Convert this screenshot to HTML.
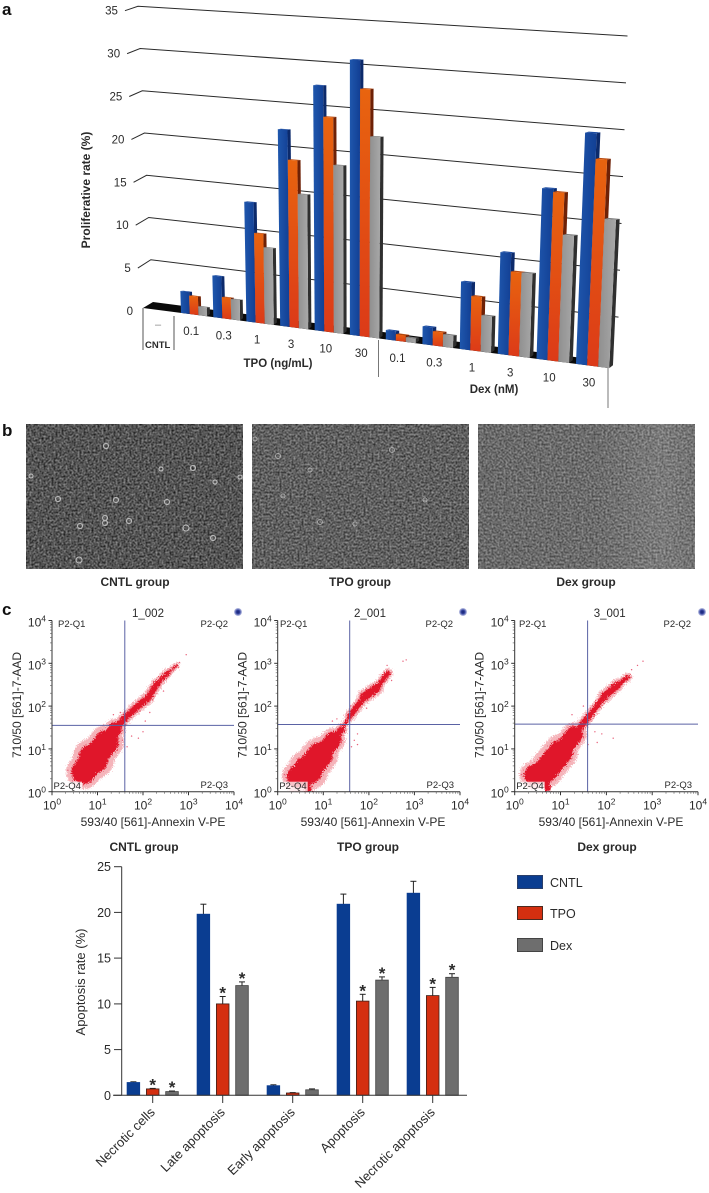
<!DOCTYPE html>
<html lang="en">
<head>
<meta charset="utf-8">
<title>Proliferation and apoptosis figure</title>
<style>
html,body{margin:0;padding:0;background:#fff;}
svg{display:block;font-family:"Liberation Sans",sans-serif;}
text{fill:#2a2a2a;}
</style>
</head>
<body>
<svg id="fig" xmlns="http://www.w3.org/2000/svg" width="709" height="1193" viewBox="0 0 709 1193">
<defs>
<linearGradient id="gBlue" x1="0" y1="0" x2="1" y2="0"><stop offset="0" stop-color="#1f57ad"/><stop offset="1" stop-color="#123f94"/></linearGradient>
<linearGradient id="gOrange" x1="0" y1="0" x2="0" y2="1"><stop offset="0" stop-color="#e8640f"/><stop offset="1" stop-color="#dc3a18"/></linearGradient>
<linearGradient id="gGray" x1="0" y1="0" x2="1" y2="0"><stop offset="0" stop-color="#8f8f8f"/><stop offset="1" stop-color="#a8a8a8"/></linearGradient>
<radialGradient id="gDot"><stop offset="0" stop-color="#14206e"/><stop offset=".45" stop-color="#2f3f9c"/><stop offset="1" stop-color="#c9cdea"/></radialGradient>
<linearGradient id="gDexLight" x1="0" y1="0" x2="1" y2="0"><stop offset="0" stop-color="#fff" stop-opacity="0"/><stop offset=".55" stop-color="#fff" stop-opacity=".02"/><stop offset=".85" stop-color="#fff" stop-opacity=".12"/><stop offset="1" stop-color="#fff" stop-opacity=".06"/></linearGradient>
<filter id="cellsA" x="0" y="0" width="1" height="1" color-interpolation-filters="sRGB">
<feTurbulence type="fractalNoise" baseFrequency="0.5" numOctaves="2" seed="4"/>
<feColorMatrix type="matrix" values="0.7 0 0 0 -0.02  0.7 0 0 0 -0.02  0.7 0 0 0 -0.02  0 0 0 0 1"/>
</filter>
<filter id="cellsB" x="0" y="0" width="1" height="1" color-interpolation-filters="sRGB">
<feTurbulence type="fractalNoise" baseFrequency="0.5" numOctaves="2" seed="11"/>
<feColorMatrix type="matrix" values="0.65 0 0 0 0.05  0.65 0 0 0 0.05  0.65 0 0 0 0.05  0 0 0 0 1"/>
</filter>
<filter id="cellsC" x="0" y="0" width="1" height="1" color-interpolation-filters="sRGB">
<feTurbulence type="fractalNoise" baseFrequency="0.5" numOctaves="2" seed="23"/>
<feColorMatrix type="matrix" values="0.55 0 0 0 0.14  0.55 0 0 0 0.14  0.55 0 0 0 0.14  0 0 0 0 1"/>
</filter>
<filter id="grain" x="-10%" y="-10%" width="120%" height="120%">
<feTurbulence type="fractalNoise" baseFrequency="0.9" numOctaves="1" seed="7" result="n"/>
<feDisplacementMap in="SourceGraphic" in2="n" scale="8" xChannelSelector="R" yChannelSelector="G"/>
</filter>
</defs>

<text x="2" y="15" font-size="17" font-weight="bold" style="fill:#111">a</text>
<text x="2" y="436" font-size="17" font-weight="bold" style="fill:#111">b</text>
<text x="2" y="615" font-size="17" font-weight="bold" style="fill:#111">c</text>

<g id="chart3d"></g>
<text transform="translate(90,190) rotate(-90)" text-anchor="middle" font-size="12" font-weight="bold">Proliferative rate (%)</text>
<text x="145" y="348" font-size="9.5" font-weight="bold">CNTL</text>
<text x="158" y="328" text-anchor="middle" font-size="11" style="fill:#888">–</text>
<text x="278" y="367" text-anchor="middle" font-size="11.5" font-weight="bold">TPO (ng/mL)</text>
<text x="494" y="393" text-anchor="middle" font-size="11.5" font-weight="bold">Dex (nM)</text>
<line x1="143" y1="308" x2="143" y2="350" stroke="#555" stroke-width="1"/>
<line x1="174" y1="316" x2="174" y2="350" stroke="#555" stroke-width="1"/>
<line x1="378.5" y1="340" x2="378.5" y2="377" stroke="#777" stroke-width="1"/>
<line x1="608" y1="368" x2="608" y2="408" stroke="#777" stroke-width="1"/>

<g>
<rect x="26" y="424" width="217" height="145" filter="url(#cellsA)"/>
<g fill="none" stroke="#c8c8c8" stroke-width="1.2" opacity=".85">
<circle cx="116" cy="500" r="2.5"/><circle cx="105" cy="518" r="2.5"/><circle cx="105" cy="523" r="2.5"/><circle cx="129" cy="521" r="2.5"/><circle cx="80" cy="526" r="2.5"/><circle cx="58" cy="499" r="2.5"/><circle cx="186" cy="528" r="3"/><circle cx="213" cy="538" r="2.5"/><circle cx="193" cy="468" r="2.5"/><circle cx="215" cy="482" r="2"/><circle cx="106" cy="446" r="2.5"/><circle cx="161" cy="469" r="2"/><circle cx="79" cy="560" r="3"/><circle cx="31" cy="476" r="2"/><circle cx="240" cy="477" r="2"/><circle cx="167" cy="502" r="2.5"/>
</g></g>
<g>
<rect x="252" y="424" width="217" height="145" filter="url(#cellsB)"/>
<g fill="none" stroke="#bdbdbd" stroke-width="1" opacity=".8">
<circle cx="255" cy="439" r="2"/><circle cx="278" cy="456" r="2.5"/><circle cx="283" cy="496" r="2"/><circle cx="320" cy="522" r="2.5"/><circle cx="355" cy="524" r="2"/><circle cx="392" cy="450" r="2.5"/><circle cx="425" cy="500" r="2"/><circle cx="310" cy="470" r="2"/>
</g></g>
<g>
<rect x="478" y="424" width="217" height="145" filter="url(#cellsC)"/>
<rect x="478" y="424" width="217" height="145" fill="url(#gDexLight)"/>
</g>
<text x="135" y="586" text-anchor="middle" font-size="12" font-weight="bold">CNTL group</text>
<text x="360" y="586" text-anchor="middle" font-size="12" font-weight="bold">TPO group</text>
<text x="586" y="586" text-anchor="middle" font-size="12" font-weight="bold">Dex group</text>

<g id="flow"></g>
<text x="144" y="851" text-anchor="middle" font-size="12" font-weight="bold">CNTL group</text>
<text x="368" y="851" text-anchor="middle" font-size="12" font-weight="bold">TPO group</text>
<text x="607" y="851" text-anchor="middle" font-size="12" font-weight="bold">Dex group</text>

<g id="apop"></g>
<text transform="translate(85,982) rotate(-90)" text-anchor="middle" font-size="13">Apoptosis rate (%)</text>

<g>
<rect x="517.5" y="875.5" width="25" height="13" fill="#0a3d91" stroke="#2a3f6a" stroke-width="1"/>
<text x="550" y="887" font-size="12.5">CNTL</text>
<rect x="517.5" y="906.5" width="25" height="13" fill="#d42f10" stroke="#4c2a20" stroke-width="1"/>
<text x="550" y="918" font-size="12.5">TPO</text>
<rect x="517.5" y="938.5" width="25" height="13" fill="#6e6e6e" stroke="#444" stroke-width="1"/>
<text x="550" y="950" font-size="12.5">Dex</text>
</g>

<script>
/* ===== Panel a: 3D proliferation bars ===== */
const proliferationTicks = [0,5,10,15,20,25,30,35];
const doseLabels = ["0.1","0.3","1","3","10","30","0.1","0.3","1","3","10","30"];
const proliferationCntl = [2.5,4.7,13.4,21.8,26.9,29.9,1.0,1.9,7.1,10.6,17.6,23.6];
const proliferationTpo  = [2.1,2.4,10.0,18.5,23.5,26.8,0.7,1.5,5.7,8.7,17.3,21.0];
const proliferationDex  = [1.0,2.3,8.5,14.8,18.3,21.7,0.5,1.3,3.8,8.7,13.0,15.0];

/* ===== Panel c: flow cytometry (log10 decades) ===== */
const flowDecades = [0,1,2,3,4];
const flowNames = ["cntl","tpo","dex"];
const flowRunTitles = ["1_002","2_001","3_001"];
const flowThresholdX = [1.6,1.58,1.59];
const flowThresholdY = [1.55,1.57,1.58];
/* ridge of the event cloud: log x, log y, half-width in decades */
const flowCloudCntl = [[0.69,0.46,0.2],[0.91,0.77,0.33],[1.2,1.16,0.2],[1.39,1.47,0.09],[1.6,1.72,0.06],[1.86,1.97,0.08],[2.12,2.2,0.07],[2.3,2.51,0.07],[2.55,2.78,0.035],[2.74,2.95,0.015]];
const flowCloudTpo  = [[0.45,0.35,0.18],[0.67,0.51,0.32],[0.93,0.86,0.24],[1.22,1.21,0.12],[1.4,1.45,0.03],[1.58,1.76,0.03],[1.91,2.23,0.1],[2.17,2.42,0.08],[2.42,2.77,0.03]];
const flowCloudDex  = [[0.42,0.39,0.16],[0.68,0.51,0.27],[1.01,0.94,0.26],[1.3,1.33,0.11],[1.63,1.77,0.03],[1.96,2.23,0.09],[2.25,2.5,0.07],[2.47,2.68,0.02]];
const flowTailTpo = [[0.62,0.3],[0.67,0.04]];
const flowTailDex = [[0.65,0.35],[0.72,0.08]];
/* sparse outlying events */
const flowOutliersCntl = [[2.95,3.2],[2.8,3.02],[1.55,1.2],[1.75,1.3],[1.9,1.25],[2.0,1.4],[2.05,1.65],[1.65,1.05],[1.5,1.85],[1.35,1.8],[0.35,0.5],[0.45,0.25],[0.3,0.15],[2.15,1.85],[2.45,2.35]];
const flowOutliersTpo  = [[2.75,3.05],[2.82,3.08],[2.4,2.95],[1.68,1.2],[1.62,1.05],[1.75,1.1],[1.3,1.7],[1.6,2.0],[1.2,1.65],[0.15,0.4],[0.2,0.25],[1.95,1.95],[2.5,2.6],[1.75,1.35]];
const flowOutliersDex  = [[2.8,3.05],[2.68,2.95],[2.55,2.85],[1.75,1.4],[1.9,1.35],[2.15,1.25],[1.8,1.15],[1.65,1.95],[1.5,2.0],[1.25,1.8],[0.15,0.4],[0.25,0.5],[2.1,2.45],[1.6,1.1]];

/* ===== Panel c: apoptosis bars ===== */
const apoptosisCategories = ["Necrotic cells","Late apoptosis","Early apoptosis","Apoptosis","Necrotic apoptosis"];
const apoptosisTicks = [0,5,10,15,20,25];
const apoptosisCntl = [1.4,19.8,1.05,20.9,22.1];
const apoptosisTpo  = [0.7,10.0,0.25,10.3,10.9];
const apoptosisDex  = [0.4,12.0,0.6,12.6,12.9];
const apoptosisCntlErr = [0.08,1.1,0.1,1.1,1.3];
const apoptosisTpoErr  = [0.06,0.8,0.05,0.75,0.9];
const apoptosisDexErr  = [0.07,0.4,0.1,0.35,0.4];
const apoptosisTpoStars = [1,1,0,1,1];
const apoptosisDexStars = [1,1,0,1,1];

const NS = "http://www.w3.org/2000/svg";
function mk(tag, attrs, parent){
  const e = document.createElementNS(NS, tag);
  for (const k in attrs) e.setAttribute(k, attrs[k]);
  parent.appendChild(e);
  return e;
}
function pts(list){ return list.map(p => p[0].toFixed(2)+","+p[1].toFixed(2)).join(" "); }

/* --- 3D chart axis functions --- */
const c3 = document.getElementById("chart3d");
function wallLeftX(v){ return 153 - 0.43*v; }
function wallLeftY(v){ return 302 - 8.45*v; }
function wallRightX(v){ return 617 + 0.3*v; }
function wallRightY(v){ return 364 - 9.37*v; }
function stubX(v){ return wallLeftX(v) - 13; }
function stubY(v){ return wallLeftY(v) + 9 - 0.13*v; }
function groupX(i){ return 181 + 32*i + 0.355*i*i; }
function groupW(i){ return 29 + 8*i/11; }
function floorY(x){ return 308 + 0.129*(x-143); }
function unitPx(x){ return 8.75 + (x-181)*1.05/395; }
function proj(x, v){
  const h = v*unitPx(x);
  return [x + (x-350)*h*0.000175, floorY(x) - h];
}

proliferationTicks.forEach(v => {
  if (v > 0){
    const grid = mk("polyline", {points: pts([[stubX(v),stubY(v)],[wallLeftX(v),wallLeftY(v)],[wallRightX(v),wallRightY(v)]]), fill:"none", stroke:"#2a2a2a", "stroke-width":"1"}, c3);
    
    
  }
  const lab = mk("text", {x:(stubX(v)-7).toFixed(1), y:(stubY(v)+4).toFixed(1), "text-anchor":"end", "font-size":"11.5"}, c3);
  
  
  lab.textContent = String(v);
});
const floor = mk("polygon", {points: pts([[143,308],[153,302],[613,362],[608,368]]), fill:"#0a0a0a"}, c3);



const series3d = [
  {name:"cntl", vals:proliferationCntl, fill:"url(#gBlue)", side:"#0c2a6b", top:"#1a4aa0"},
  {name:"tpo",  vals:proliferationTpo,  fill:"url(#gOrange)", side:"#6e2106", top:"#b84a10"},
  {name:"dex",  vals:proliferationDex,  fill:"url(#gGray)", side:"#2f2f2f", top:"#7d7d7d"}
];
doseLabels.forEach((lab, i) => {
  const x0 = groupX(i), w = groupW(i), step = w*0.3, dx = w*0.1, dy = w*0.08;
  series3d.forEach((s, k) => {
    const v = s.vals[i], xa = x0 + k*step, xb = xa + step;
    const bl = proj(xa,0), br = proj(xb,0), tl = proj(xa,v), tr = proj(xb,v);
    const side = mk("polygon", {points: pts([br,tr,[tr[0]+dx,tr[1]-dy+2],[br[0]+dx,br[1]-dy]]), fill:s.side}, c3);
    
    
    const top = mk("polygon", {points: pts([tl,tr,[tr[0]+dx,tr[1]-dy+2],[tl[0]+dx,tl[1]-dy+2]]), fill:s.top}, c3);
    
    
    const front = mk("polygon", {points: pts([bl,tl,tr,br]), fill:s.fill}, c3);
    
    
  });
  const xt = x0 + w*0.35;
  const t = mk("text", {x:xt.toFixed(1), y:(floorY(xt)+21).toFixed(1), "text-anchor":"middle", "font-size":"11.5"}, c3);
  
  
  t.textContent = lab;
});

/* --- Flow cytometry panels --- */
const flow = document.getElementById("flow");
const flowFrames = [{l:52,r:234,titleX:148,xTitle:153,dot:238,q1:58,q2:222},{l:277.7,r:460,titleX:370,xTitle:373,dot:463,q1:280,q2:447},{l:514.7,r:698,titleX:609.7,xTitle:611,dot:702,q1:519,q2:685}];
const flowClouds = [flowCloudCntl, flowCloudTpo, flowCloudDex];
const flowTails = [[], flowTailTpo, flowTailDex];
const flowOutliers = [flowOutliersCntl, flowOutliersTpo, flowOutliersDex];
const FT = 620.5, FB = 791.7;

flowFrames.forEach((f, p) => {
  const g = mk("g", {}, flow);
  
  
  const sx = d => f.l + d*(f.r-f.l)/4;
  const sy = d => FB - d*(FB-FT)/4;
  const pxPerDecade = (f.r-f.l)/4;

  const clip = mk("clipPath", {id:"flowClip"+p}, g);
  mk("rect", {x:f.l, y:FT, width:f.r-f.l, height:FB-FT}, clip);

  const cloudWrap = mk("g", {"clip-path":"url(#flowClip"+p+")"}, g);
  const ridge = flowClouds[p];
  /* faint sparse halo, then dense core */
  [{grow:1.3, extra:1.5, op:0.32}, {grow:1, extra:0, op:1}].forEach(layer => {
    const cloud = mk("g", {fill:"#e0182c", stroke:"#e0182c", "stroke-linecap":"round", filter:"url(#grain)", opacity:layer.op}, cloudWrap);
    
    
    ridge.forEach((r, i) => {
      const c = mk("circle", {cx:sx(r[0]).toFixed(1), cy:sy(r[1]).toFixed(1), r:(r[2]*pxPerDecade*layer.grow+layer.extra).toFixed(1), stroke:"none"}, cloud);
      
      
      if (i+1 < ridge.length){
        const n = ridge[i+1];
        const s = mk("line", {x1:sx(r[0]).toFixed(1), y1:sy(r[1]).toFixed(1), x2:sx(n[0]).toFixed(1), y2:sy(n[1]).toFixed(1), "stroke-width":((r[2]+n[2])*pxPerDecade*layer.grow+2*layer.extra).toFixed(1)}, cloud);
        
        
      }
    });
    const tail = flowTails[p];
    if (tail.length === 2){
      const tl = mk("line", {x1:sx(tail[0][0]).toFixed(1), y1:sy(tail[0][1]).toFixed(1), x2:sx(tail[1][0]).toFixed(1), y2:sy(tail[1][1]).toFixed(1), "stroke-width":"7"}, cloud);
      
      
    }
  });
  flowOutliers[p].forEach(o => {
    const d = mk("circle", {cx:sx(o[0]).toFixed(1), cy:sy(o[1]).toFixed(1), r:"0.7", fill:"#e8607a"}, cloudWrap);
    
    
  });

  const hq = mk("line", {x1:f.l, y1:sy(flowThresholdY[p]).toFixed(1), x2:f.r, y2:sy(flowThresholdY[p]).toFixed(1), stroke:"#5a62a4", "stroke-width":"1"}, g);
  
  
  const vq = mk("line", {x1:sx(flowThresholdX[p]).toFixed(1), y1:FT, x2:sx(flowThresholdX[p]).toFixed(1), y2:FB, stroke:"#5a62a4", "stroke-width":"1"}, g);
  
  

  const ax = mk("polyline", {points: pts([[f.l,FT],[f.l,FB],[f.r,FB]]), fill:"none", stroke:"#333", "stroke-width":"1"}, g);
  
  

  flowDecades.forEach((d, i) => {
    const mx = mk("line", {x1:sx(d).toFixed(1), y1:FB, x2:sx(d).toFixed(1), y2:FB+3.5, stroke:"#333", "stroke-width":"1"}, g);
    
    
    const my = mk("line", {x1:f.l-3.5, y1:sy(d).toFixed(1), x2:f.l, y2:sy(d).toFixed(1), stroke:"#333", "stroke-width":"1"}, g);
    
    
    if (i < flowDecades.length-1){
      for (let m = 2; m < 10; m++){
        const off = d + Math.log10(m);
        const nx = mk("line", {x1:sx(off).toFixed(1), y1:FB, x2:sx(off).toFixed(1), y2:FB+2, stroke:"#555", "stroke-width":"0.6"}, g);
        
        
        const ny = mk("line", {x1:f.l-2, y1:sy(off).toFixed(1), x2:f.l, y2:sy(off).toFixed(1), stroke:"#555", "stroke-width":"0.6"}, g);
        
        
      }
    }
    const tx = mk("text", {x:sx(d).toFixed(1), y:FB+18, "text-anchor":"middle", "font-size":"12"}, g);
    
    
    tx.textContent = "10";
    const txs = mk("tspan", {dy:"-5", "font-size":"8.5"}, tx);
    txs.textContent = String(d);
    const ty = mk("text", {x:(f.l-6).toFixed(1), y:(sy(d)+6).toFixed(1), "text-anchor":"end", "font-size":"12"}, g);
    
    
    ty.textContent = "10";
    const tys = mk("tspan", {dy:"-5", "font-size":"8.5"}, ty);
    tys.textContent = String(d);
  });

  const xT = mk("text", {x:f.xTitle, y:826, "text-anchor":"middle", "font-size":"12"}, g);
  
  
  xT.textContent = "593/40 [561]-Annexin V-PE";
  const yT = mk("text", {transform:"translate("+(f.l-31).toFixed(1)+",705) rotate(-90)", "text-anchor":"middle", "font-size":"12"}, g);
  
  
  yT.textContent = "710/50 [561]-7-AAD";
  const run = mk("text", {x:f.titleX, y:617, "text-anchor":"middle", "font-size":"11.5"}, g);
  
  
  run.textContent = flowRunTitles[p];

  const q4bg = mk("rect", {x:f.l+1, y:FB-10, width:"29", height:"9.5", fill:"#fff", "fill-opacity":"0.75"}, g);
  
  
  const q = [["P2-Q1",f.q1,627,"start"],["P2-Q2",f.q2+6,627,"end"],["P2-Q3",f.r-6,788,"end"],["P2-Q4",f.l+1.5,789,"start"]];
  q.forEach(a => {
    const qt = mk("text", {x:a[1], y:a[2], "text-anchor":a[3], "font-size":"9.5"}, g);
    
    
    qt.textContent = a[0];
  });
  const dot = mk("circle", {cx:f.dot, cy:612, r:"4", fill:"url(#gDot)"}, g);
  
  
});

/* --- Apoptosis bar chart --- */
const ap = document.getElementById("apop");
function apY(v){ return 1095.3 - v*9.144; }
function apX(i){ return 152.7 + i*70; }
const apSeries = [
  {name:"cntl", off:-19.3, fill:"#0a3d91", stroke:"#0a3d91", vals:apoptosisCntl, err:apoptosisCntlErr, stars:null},
  {name:"tpo",  off:0,     fill:"#d42f10", stroke:"#3c2018", vals:apoptosisTpo,  err:apoptosisTpoErr,  stars:apoptosisTpoStars},
  {name:"dex",  off:19.3,  fill:"#6e6e6e", stroke:"#3f3f3f", vals:apoptosisDex,  err:apoptosisDexErr,  stars:apoptosisDexStars}
];
const apYAxis = mk("line", {x1:121.7, y1:apY(25), x2:121.7, y2:apY(0), stroke:"#333", "stroke-width":"1"}, ap);


apoptosisTicks.forEach(v => {
  const tk = mk("line", {x1:114, y1:apY(v).toFixed(1), x2:121.7, y2:apY(v).toFixed(1), stroke:"#333", "stroke-width":"1"}, ap);
  
  
  const lb = mk("text", {x:111, y:(apY(v)+4.5).toFixed(1), "text-anchor":"end", "font-size":"12.5"}, ap);
  
  
  lb.textContent = String(v);
});
apoptosisCategories.forEach((cat, i) => {
  const cx = apX(i);
  apSeries.forEach(s => {
    const v = s.vals[i], x = cx + s.off, cap = apY(v + s.err[i]);
    const eb = mk("line", {x1:x.toFixed(1), y1:apY(v).toFixed(1), x2:x.toFixed(1), y2:cap.toFixed(1), stroke:"#222", "stroke-width":"1"}, ap);
    
    
    const ec = mk("line", {x1:(x-3).toFixed(1), y1:cap.toFixed(1), x2:(x+3).toFixed(1), y2:cap.toFixed(1), stroke:"#222", "stroke-width":"1"}, ap);
    
    
    const b = mk("rect", {x:(x-6.3).toFixed(1), y:apY(v).toFixed(1), width:"12.6", height:(apY(0)-apY(v)).toFixed(1), fill:s.fill, stroke:s.stroke, "stroke-width":"0.8"}, ap);
    
    
    if (s.stars && s.stars[i]){
      const st = mk("text", {x:x.toFixed(1), y:(cap+2).toFixed(1), "text-anchor":"middle", "font-size":"17", "font-weight":"bold"}, ap);
      
      
      st.textContent = "*";
    }
  });
  const tk = mk("line", {x1:cx.toFixed(1), y1:apY(0), x2:cx.toFixed(1), y2:1103, stroke:"#333", "stroke-width":"1"}, ap);
  
  
  const lb = mk("text", {transform:"translate("+(cx+3).toFixed(1)+",1113) rotate(-45)", "text-anchor":"end", "font-size":"13"}, ap);
  
  
  lb.textContent = cat;
});
const apXAxis = mk("line", {x1:113, y1:apY(0), x2:467, y2:apY(0), stroke:"#333", "stroke-width":"1"}, ap);


</script>
</svg>
</body>
</html>
